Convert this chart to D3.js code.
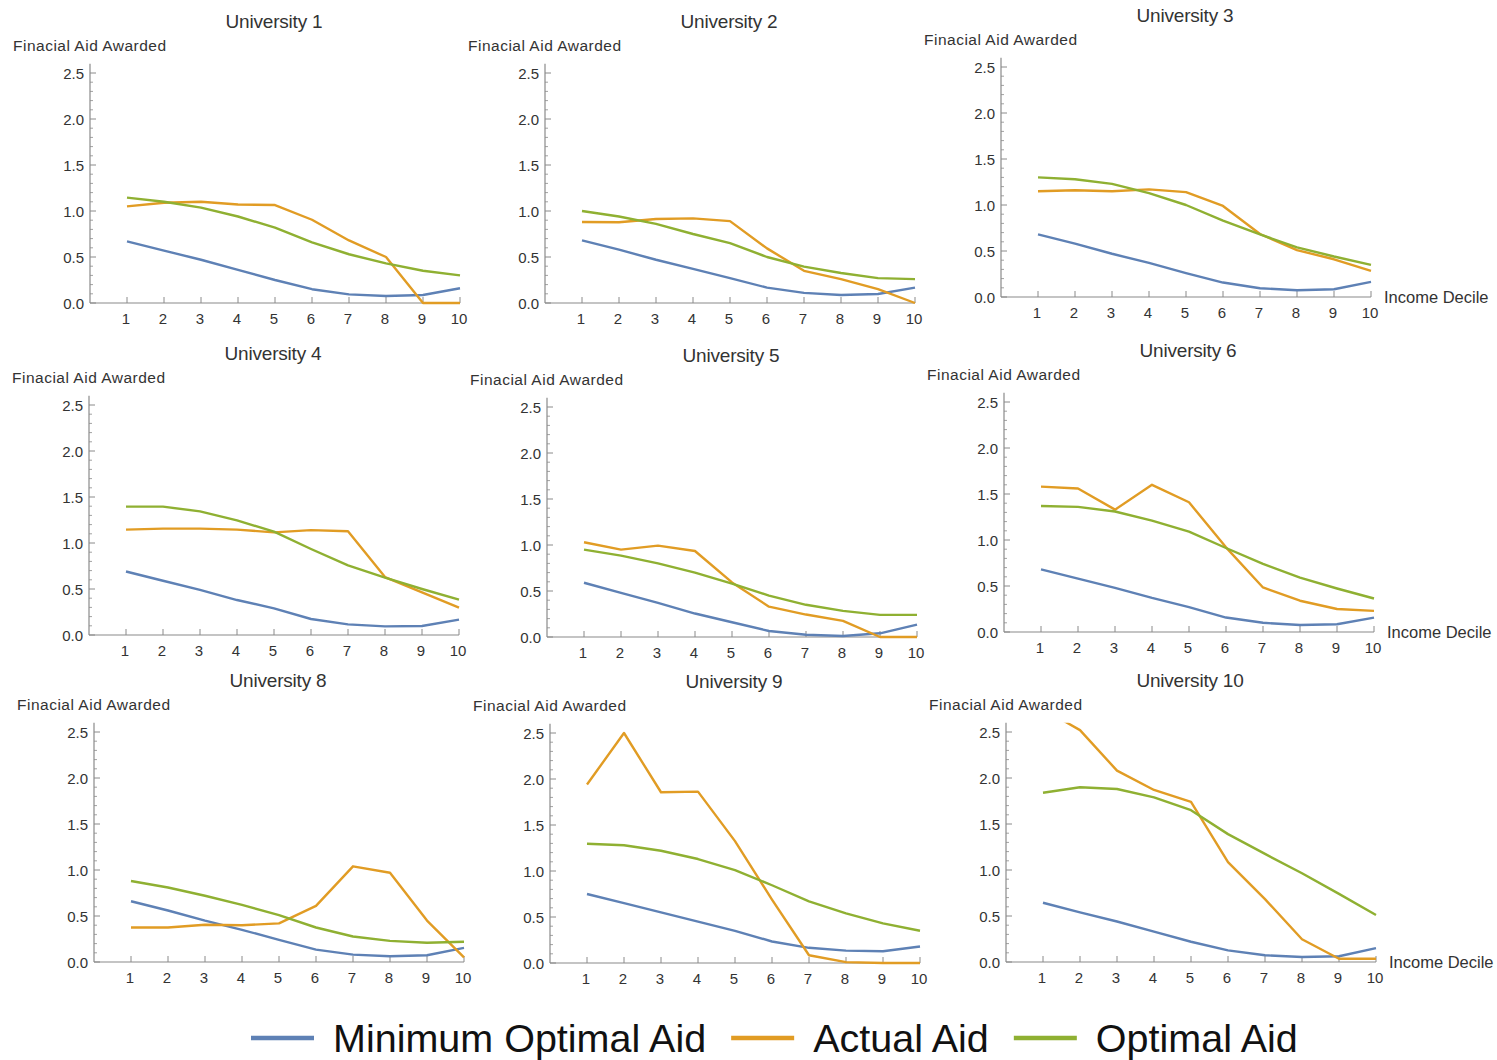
<!DOCTYPE html>
<html>
<head>
<meta charset="utf-8">
<script src="https://cdn.jsdelivr.net/npm/d3@7"></script>
<style>
  html, body { margin: 0; padding: 0; background: #fff; }
  svg { display: block; font-family: "Liberation Sans", Arial, sans-serif; }
</style>
</head>
<body>
<svg id="chart" width="1497" height="1060"></svg>
<script>
// ---------- data ----------
const deciles = [1, 2, 3, 4, 5, 6, 7, 8, 9, 10];
const universityNames = ["University 1", "University 2", "University 3",
                         "University 4", "University 5", "University 6",
                         "University 8", "University 9", "University 10"];
const seriesNames = ["Minimum Optimal Aid", "Actual Aid", "Optimal Aid"];
const yTickValues = [0, 0.5, 1.0, 1.5, 2.0, 2.5];
const yAxisTitle = "Finacial Aid Awarded";
const xAxisTitle = "Income Decile";

const minimumOptimalAid = [
  [0.67, 0.57, 0.47, 0.36, 0.25, 0.15, 0.094, 0.076, 0.087, 0.16],
  [0.68, 0.58, 0.47, 0.37, 0.27, 0.167, 0.11, 0.087, 0.098, 0.167],
  [0.68, 0.58, 0.47, 0.37, 0.26, 0.157, 0.095, 0.073, 0.084, 0.164],
  [0.69, 0.59, 0.49, 0.38, 0.29, 0.174, 0.116, 0.094, 0.098, 0.167],
  [0.59, 0.48, 0.37, 0.255, 0.16, 0.065, 0.025, 0.011, 0.04, 0.135],
  [0.68, 0.58, 0.48, 0.37, 0.27, 0.157, 0.10, 0.076, 0.084, 0.157],
  [0.66, 0.56, 0.45, 0.35, 0.24, 0.135, 0.08, 0.062, 0.073, 0.153],
  [0.75, 0.65, 0.55, 0.45, 0.35, 0.234, 0.165, 0.135, 0.128, 0.18],
  [0.644, 0.54, 0.44, 0.33, 0.22, 0.127, 0.073, 0.055, 0.062, 0.15]
];
const actualAid = [
  [1.05, 1.09, 1.10, 1.07, 1.065, 0.905, 0.68, 0.50, 0.0, 0.0],
  [0.88, 0.877, 0.913, 0.92, 0.89, 0.594, 0.35, 0.26, 0.15, 0.0],
  [1.15, 1.16, 1.15, 1.17, 1.14, 0.99, 0.685, 0.51, 0.41, 0.285],
  [1.145, 1.156, 1.156, 1.145, 1.116, 1.14, 1.127, 0.63, 0.464, 0.297],
  [1.03, 0.95, 0.993, 0.935, 0.593, 0.33, 0.244, 0.175, 0.0, 0.0],
  [1.58, 1.56, 1.33, 1.60, 1.41, 0.92, 0.484, 0.34, 0.25, 0.23],
  [0.375, 0.375, 0.405, 0.40, 0.42, 0.61, 1.04, 0.97, 0.45, 0.05],
  [1.94, 2.50, 1.856, 1.863, 1.325, 0.69, 0.084, 0.01, 0.0, 0.0],
  [2.75, 2.52, 2.08, 1.87, 1.74, 1.085, 0.684, 0.247, 0.036, 0.036]
];
const optimalAid = [
  [1.145, 1.10, 1.036, 0.94, 0.82, 0.66, 0.53, 0.43, 0.35, 0.30],
  [1.0, 0.94, 0.86, 0.75, 0.65, 0.50, 0.395, 0.326, 0.27, 0.26],
  [1.30, 1.28, 1.23, 1.13, 1.0, 0.83, 0.68, 0.54, 0.44, 0.35],
  [1.395, 1.395, 1.344, 1.246, 1.123, 0.935, 0.757, 0.623, 0.50, 0.384],
  [0.95, 0.884, 0.80, 0.70, 0.58, 0.45, 0.35, 0.284, 0.24, 0.24],
  [1.37, 1.36, 1.31, 1.21, 1.09, 0.913, 0.74, 0.59, 0.473, 0.364],
  [0.88, 0.81, 0.72, 0.62, 0.51, 0.375, 0.277, 0.23, 0.21, 0.22],
  [1.296, 1.28, 1.22, 1.13, 1.01, 0.845, 0.67, 0.54, 0.43, 0.35],
  [1.84, 1.90, 1.88, 1.79, 1.65, 1.39, 1.175, 0.964, 0.74, 0.51]
];

// ---------- layout & style ----------
const colors = ["#5E81B5", "#E19C24", "#8FB032"];
const panelOrigins = [           // pixel position of data point (0,0) in each panel
  [90, 303], [545, 303], [1001, 297],
  [89, 635], [547, 637], [1004, 632],
  [94, 962], [550, 963], [1006, 962]
];
const plotW = 370, plotH = 239.2;   // x 0..10, y 0..2.6
const yMax = 2.6;
const axisColor = "#8a8a8a";
const textColor = "#333333";

const svg = d3.select("#chart");
const defs = svg.append("defs");

universityNames.forEach((name, i) => {
  const [ox, oy] = panelOrigins[i];
  const x = d3.scaleLinear().domain([0, 10]).range([ox, ox + plotW]);
  const y = d3.scaleLinear().domain([0, yMax]).range([oy, oy - plotH]);
  const g = svg.append("g");

  // title
  g.append("text")
    .attr("x", ox + 184).attr("y", oy - 282)
    .attr("text-anchor", "middle").attr("dominant-baseline", "central")
    .attr("font-size", 19).attr("letter-spacing", -0.2)
    .attr("fill", textColor).text(name);

  // y axis label
  g.append("text")
    .attr("x", ox - 77).attr("y", oy - 258)
    .attr("dominant-baseline", "central")
    .attr("font-size", 15.5).attr("letter-spacing", 0.5)
    .attr("fill", textColor).text(yAxisTitle);

  // axes lines
  g.append("line").attr("x1", x(0)).attr("x2", x(0))
    .attr("y1", y(0)).attr("y2", y(yMax))
    .attr("stroke", axisColor).attr("stroke-width", 1.2);
  g.append("line").attr("x1", x(0)).attr("x2", x(10))
    .attr("y1", y(0)).attr("y2", y(0))
    .attr("stroke", axisColor).attr("stroke-width", 1.2);

  // y minor ticks
  const minorY = d3.range(0, 26).map(k => k / 10).filter(v => Math.round(v * 10) % 5 !== 0);
  g.selectAll(".ymin").data(minorY).enter().append("line")
    .attr("x1", x(0)).attr("x2", x(0) + 3)
    .attr("y1", d => y(d)).attr("y2", d => y(d))
    .attr("stroke", axisColor).attr("stroke-width", 0.8);
  // y major ticks + labels
  g.selectAll(".ymaj").data(yTickValues).enter().append("line")
    .attr("x1", x(0)).attr("x2", x(0) + 6)
    .attr("y1", d => y(d)).attr("y2", d => y(d))
    .attr("stroke", axisColor).attr("stroke-width", 1);
  g.selectAll(".ylab").data(yTickValues).enter().append("text")
    .attr("x", x(0) - 6).attr("y", d => y(d))
    .attr("text-anchor", "end").attr("dominant-baseline", "central")
    .attr("font-size", 15).attr("fill", textColor)
    .text(d => d3.format(".1f")(d));

  // x ticks + labels
  g.selectAll(".xmaj").data(deciles).enter().append("line")
    .attr("x1", d => x(d)).attr("x2", d => x(d))
    .attr("y1", y(0)).attr("y2", y(0) - 6)
    .attr("stroke", axisColor).attr("stroke-width", 1);
  g.selectAll(".xlab").data(deciles).enter().append("text")
    .attr("x", d => x(d) - 1).attr("y", y(0) + 20.5)
    .attr("text-anchor", "middle")
    .attr("font-size", 15).attr("fill", textColor)
    .text(d => d);

  if (i % 3 === 2) {
    g.append("text")
      .attr("x", x(10) + 13).attr("y", y(0))
      .attr("dominant-baseline", "central")
      .attr("font-size", 16.5).attr("fill", textColor)
      .text(xAxisTitle);
  }

  // clip
  const clipId = "clip" + i;
  defs.append("clipPath").attr("id", clipId).append("rect")
    .attr("x", x(0) - 2).attr("y", y(yMax))
    .attr("width", plotW + 6).attr("height", plotH + 4);

  const line = d3.line().x((d, k) => x(deciles[k])).y(d => y(d));
  const series = [minimumOptimalAid[i], actualAid[i], optimalAid[i]];
  const lg = g.append("g").attr("clip-path", `url(#${clipId})`);
  series.forEach((vals, s) => {
    lg.append("path").datum(vals)
      .attr("d", line).attr("fill", "none")
      .attr("stroke", colors[s]).attr("stroke-width", 2.4)
      .attr("stroke-linejoin", "round");
  });
});

// ---------- legend ----------
const legend = svg.append("g");
let lx = 251;
const ly = 1038;
seriesNames.forEach((nm, s) => {
  legend.append("line")
    .attr("x1", lx).attr("x2", lx + 63).attr("y1", ly).attr("y2", ly)
    .attr("stroke", colors[s]).attr("stroke-width", 4.5);
  const t = legend.append("text")
    .attr("x", lx + 82).attr("y", ly)
    .attr("dominant-baseline", "central")
    .attr("font-size", 39.5).attr("fill", "#111")
    .text(nm);
  const w = t.node().getComputedTextLength();
  lx = lx + 82 + w + 25;
});
</script>
</body>
</html>
